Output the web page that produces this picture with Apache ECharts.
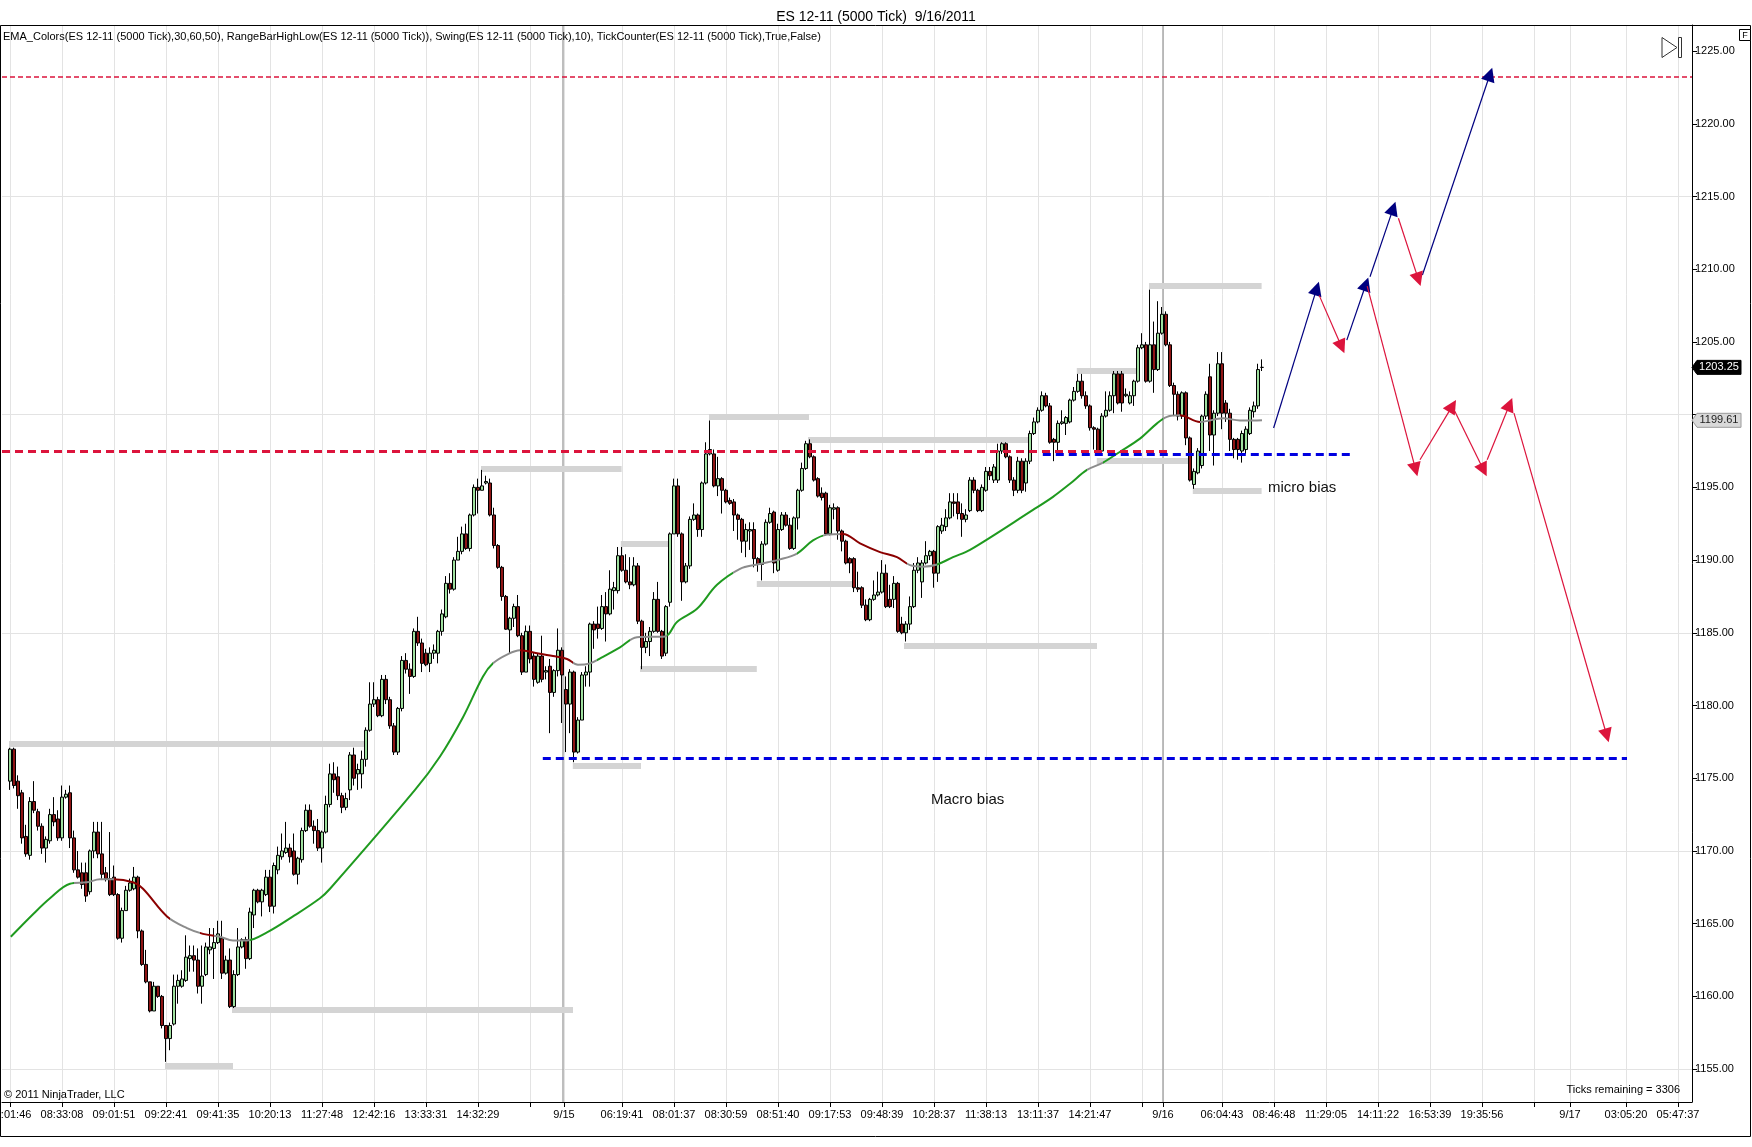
<!DOCTYPE html>
<html><head><meta charset="utf-8">
<script src="https://cdn.jsdelivr.net/npm/echarts@6/dist/echarts.min.js"></script>
<style>html,body{margin:0;padding:0;background:#fff}#c{width:1752px;height:1147px}</style>
</head><body><div id="c"></div>
<script>
// ---------------- DATA ----------------
const chartTitle = 'ES 12-11 (5000 Tick)  9/16/2011';
const indicatorText = 'EMA_Colors(ES 12-11 (5000 Tick),30,60,50), RangeBarHighLow(ES 12-11 (5000 Tick)), Swing(ES 12-11 (5000 Tick),10), TickCounter(ES 12-11 (5000 Tick),True,False)';
const copyrightText = '\u00a9 2011 NinjaTrader, LLC';
const ticksRemainingText = 'Ticks remaining = 3306';

// x tick positions (bar index) and labels
const xTickPos = [0,13,26,39,52,65,78,91,104,117,130,138.5,153,166,179,192,205,218,231,244,257,270,283,288.25,303,316,329,342,355,368,381,390,404,417];
const xTickLabels = ['08:01:46','08:33:08','09:01:51','09:22:41','09:41:35','10:20:13','11:27:48','12:42:16','13:33:31','14:32:29','','9/15','06:19:41','08:01:37','08:30:59','08:51:40','09:17:53','09:48:39','10:28:37','11:38:13','13:11:37','14:21:47','','9/16','06:04:43','08:46:48','11:29:05','14:11:22','16:53:39','19:35:56','','9/17','03:05:20','05:47:37'];
const sessionBreaks = [138.2, 288.2];
const yTickValues = [1155,1160,1165,1170,1175,1180,1185,1190,1195,1200,1205,1210,1215,1220,1225];
const yGridLevels = [1155,1170,1185,1200,1215];

const barOpen = [
1174.8,1177.0,1174.8,1174.0,1171.0,1169.7,1173.4,1172.7,1171.7,1170.2,
1170.7,1172.5,1172.2,1170.9,1173.7,1174.0,1170.9,1168.7,1168.5,1168.5,
1167.2,1170.0,1171.3,1169.8,1168.5,1168.1,1168.2,1167.0,1164.0,1165.9,
1167.3,1167.4,1168.2,1164.5,1162.2,1161.0,1159.0,1160.7,1160.0,1158.0,
1157.1,1158.1,1160.7,1160.7,1161.1,1162.6,1162.8,1162.5,1160.7,1161.5,
1163.2,1163.3,1163.7,1164.0,1161.6,1162.5,1159.3,1161.5,1163.4,1163.9,
1162.6,1165.6,1167.3,1166.5,1167.0,1168.2,1166.2,1168.7,1169.6,1169.9,
1170.2,1170.0,1168.4,1169.4,1171.4,1172.8,1171.7,1171.4,1170.2,1171.3,
1173.2,1175.3,1175.1,1173.8,1173.0,1174.2,1176.6,1175.3,1175.3,1176.3,
1178.3,1180.1,1180.4,1179.3,1181.8,1180.4,1178.6,1176.8,1179.8,1183.1,
1182.5,1182.0,1185.1,1184.3,1183.6,1182.9,1183.6,1183.6,1185.1,1186.1,
1188.4,1188.0,1190.0,1190.6,1191.8,1190.8,1193.1,1195.0,1194.8,1195.3,
1195.3,1193.1,1191.0,1189.5,1187.5,1185.2,1186.0,1186.8,1184.8,1182.3,
1185.1,1183.4,1181.6,1183.4,1182.3,1182.7,1180.9,1182.4,1183.8,1181.1,
1180.1,1182.3,1176.8,1179.0,1182.1,1182.3,1185.6,1185.6,1185.3,1186.8,
1186.3,1187.9,1187.9,1190.3,1189.3,1188.5,1188.3,1189.6,1185.8,1184.0,
1184.4,1185.1,1187.3,1185.1,1183.6,1187.1,1191.8,1195.1,1191.8,1188.5,
1189.6,1192.8,1193.1,1192.1,1195.3,1197.3,1197.3,1195.1,1195.6,1194.8,
1194.1,1194.0,1193.1,1192.8,1191.3,1192.0,1192.1,1190.1,1189.7,1191.1,
1192.6,1193.3,1189.3,1192.1,1193.1,1192.4,1190.8,1192.9,1194.8,1196.3,
1198.0,1197.1,1195.6,1194.6,1194.6,1191.8,1193.5,1193.6,1192.0,1191.3,
1190.1,1190.1,1188.1,1188.1,1186.9,1185.9,1187.3,1187.6,1187.8,1189.1,
1187.3,1187.3,1188.4,1185.6,1185.0,1185.6,1186.8,1189.3,1188.5,1189.8,
1190.3,1190.6,1189.1,1192.0,1192.3,1192.9,1194.0,1194.0,1193.2,1192.8,
1193.4,1195.5,1194.8,1193.4,1194.8,1196.1,1195.5,1195.5,1197.5,1198.0,
1197.1,1195.5,1194.8,1196.8,1195.3,1196.8,1198.7,1199.5,1200.3,1201.3,
1200.6,1198.3,1198.1,1199.4,1199.4,1199.5,1201.0,1201.6,1202.3,1201.3,
1200.6,1199.1,1199.0,1197.5,1199.9,1200.3,1201.3,1202.8,1202.8,1201.3,
1200.8,1201.3,1202.3,1204.6,1204.8,1202.3,1204.8,1203.1,1205.6,1206.9,
1204.8,1202.0,1201.4,1199.9,1201.5,1198.4,1195.2,1196.0,1196.5,1199.9,
1202.6,1198.6,1200.1,1203.5,1200.8,1200.1,1198.3,1198.3,1197.5,1197.6,
1198.7,1200.2,1200.6,1203.25];
const barHigh = [
1177.1,1177.1,1175.2,1174.2,1171.8,1173.7,1174.8,1172.9,1171.9,1171.0,
1172.9,1173.7,1172.8,1174.5,1174.2,1174.5,1171.4,1170.0,1169.2,1169.2,
1170.1,1172.0,1172.0,1172.0,1168.9,1171.3,1169.0,1167.1,1166.1,1167.6,
1168.1,1168.9,1168.3,1164.6,1163.2,1161.0,1161.0,1160.7,1160.1,1158.0,
1158.2,1161.5,1161.5,1161.8,1164.2,1163.5,1163.5,1163.3,1163.5,1163.7,
1164.7,1164.7,1165.2,1165.2,1162.8,1163.3,1161.8,1164.7,1164.0,1164.1,
1166.1,1167.4,1167.4,1167.4,1168.7,1168.7,1169.2,1170.3,1171.2,1172.0,
1170.5,1171.2,1169.6,1171.6,1173.2,1173.2,1172.1,1172.2,1171.4,1173.8,
1176.0,1176.1,1175.8,1174.0,1174.0,1176.8,1177.1,1176.0,1176.9,1178.5,
1181.6,1181.6,1180.6,1182.1,1182.1,1180.6,1178.8,1179.9,1183.4,1183.6,
1182.9,1185.3,1186.1,1184.6,1183.9,1184.0,1184.2,1185.2,1186.6,1188.9,
1189.1,1190.2,1191.6,1192.3,1192.5,1193.2,1195.2,1195.6,1196.2,1195.8,
1195.6,1193.6,1191.1,1189.6,1187.6,1186.1,1187.0,1187.6,1185.0,1185.5,
1185.5,1183.6,1183.6,1184.8,1182.7,1183.2,1182.5,1185.3,1184.0,1182.0,
1182.5,1182.4,1179.2,1182.3,1182.7,1185.7,1185.8,1186.8,1187.6,1187.8,
1189.3,1188.5,1190.9,1190.9,1190.4,1190.2,1190.2,1189.8,1185.9,1185.0,
1185.4,1187.8,1188.5,1185.2,1186.9,1191.9,1195.6,1195.6,1191.9,1189.8,
1193.0,1193.9,1193.2,1195.4,1198.1,1199.6,1197.6,1197.1,1195.7,1194.9,
1194.3,1194.2,1193.2,1192.9,1192.5,1192.6,1192.6,1190.2,1191.3,1192.8,
1193.6,1193.4,1192.5,1193.3,1193.3,1192.9,1193.0,1194.9,1196.7,1198.2,
1198.3,1197.2,1195.7,1195.0,1194.7,1193.8,1193.9,1193.7,1192.1,1191.4,
1190.2,1190.2,1189.2,1188.2,1187.3,1187.4,1188.6,1189.2,1190.0,1189.7,
1188.3,1188.9,1188.5,1186.1,1185.8,1187.5,1189.8,1190.2,1190.0,1191.3,
1190.7,1190.7,1192.4,1192.9,1193.5,1194.6,1194.6,1194.6,1193.9,1193.5,
1195.7,1195.7,1194.9,1195.2,1196.4,1196.4,1196.6,1198.0,1198.1,1198.1,
1197.2,1195.7,1197.1,1197.0,1197.0,1198.9,1199.8,1200.5,1201.6,1201.5,
1200.8,1198.4,1199.6,1200.3,1199.9,1201.1,1201.9,1202.8,1202.8,1201.6,
1200.7,1199.2,1199.1,1200.1,1201.6,1201.6,1203.0,1203.0,1203.0,1201.8,
1201.6,1202.4,1204.8,1205.6,1205.0,1208.6,1206.4,1207.8,1207.4,1207.1,
1205.0,1202.2,1201.6,1201.6,1201.6,1198.5,1196.3,1197.7,1200.0,1201.6,
1203.5,1200.3,1204.3,1204.3,1201.0,1200.4,1198.4,1198.4,1198.9,1199.2,
1200.5,1200.9,1203.5,1203.8];
const barLow = [
1174.2,1174.3,1172.9,1170.5,1169.6,1169.4,1172.6,1171.4,1169.8,1169.2,
1170.5,1171.7,1170.7,1170.7,1173.6,1170.2,1168.5,1168.1,1167.4,1166.5,
1167.0,1169.5,1169.5,1168.0,1167.9,1166.9,1166.9,1163.9,1163.7,1165.9,
1167.2,1167.3,1164.0,1162.1,1160.9,1158.9,1159.0,1159.9,1157.8,1155.5,
1156.3,1158.0,1159.5,1160.6,1161.0,1161.7,1161.7,1160.2,1159.5,1161.4,
1162.9,1161.2,1163.6,1161.2,1161.5,1159.2,1159.2,1161.4,1163.3,1161.9,
1162.5,1164.7,1166.4,1165.5,1166.9,1165.8,1165.7,1168.4,1169.4,1169.8,
1169.2,1168.3,1167.7,1169.2,1171.3,1171.6,1170.5,1170.0,1169.2,1171.2,
1173.0,1174.0,1173.5,1172.6,1172.8,1173.5,1174.5,1174.2,1174.3,1175.8,
1178.2,1179.9,1179.2,1179.2,1180.1,1178.4,1176.6,1176.6,1179.6,1182.2,
1180.8,1181.9,1184.1,1182.3,1182.7,1182.3,1183.2,1182.9,1184.8,1186.0,
1187.7,1187.9,1190.0,1190.4,1190.7,1190.6,1193.0,1193.2,1194.8,1195.2,
1193.0,1190.8,1189.4,1187.2,1185.2,1183.6,1185.4,1184.7,1182.1,1182.3,
1182.9,1181.3,1181.5,1181.6,1181.8,1178.1,1180.6,1182.0,1178.8,1176.8,
1178.1,1176.1,1176.7,1179.0,1181.3,1181.3,1183.9,1184.6,1185.2,1184.4,
1186.2,1186.6,1187.7,1189.2,1188.4,1188.0,1188.2,1185.6,1182.5,1183.6,
1183.4,1185.0,1185.0,1183.2,1183.4,1186.8,1191.8,1191.6,1187.2,1188.4,
1189.4,1192.7,1191.6,1191.6,1195.2,1197.2,1195.0,1194.4,1193.2,1193.9,
1193.8,1192.0,1191.4,1190.5,1190.2,1190.7,1189.5,1189.2,1188.6,1191.0,
1192.5,1189.1,1189.2,1192.0,1192.3,1190.7,1190.7,1192.1,1194.7,1196.2,
1197.0,1195.4,1194.3,1194.1,1191.7,1191.7,1192.8,1191.4,1190.6,1189.7,
1189.1,1187.8,1187.8,1186.7,1185.8,1185.8,1187.2,1187.5,1187.7,1186.7,
1186.7,1186.7,1185.0,1184.9,1184.4,1185.2,1186.7,1189.1,1187.4,1189.7,
1190.0,1188.1,1188.5,1191.8,1192.0,1192.8,1193.0,1192.8,1191.6,1192.6,
1193.3,1194.6,1193.3,1193.3,1194.7,1195.5,1195.3,1195.3,1197.3,1197.0,
1195.3,1194.4,1194.6,1194.6,1194.7,1196.6,1198.6,1199.4,1200.2,1200.5,
1198.0,1196.8,1197.5,1199.3,1198.6,1199.4,1200.9,1201.5,1201.1,1200.4,
1198.9,1197.6,1197.2,1197.3,1199.8,1200.2,1200.1,1200.7,1200.2,1201.2,
1200.7,1200.6,1202.2,1204.5,1202.2,1202.2,1201.5,1203.0,1205.5,1204.7,
1201.9,1199.9,1199.6,1199.7,1197.9,1195.4,1194.9,1195.9,1196.3,1199.7,
1197.5,1196.5,1199.9,1199.0,1199.5,1197.5,1197.0,1196.9,1196.7,1197.3,
1198.6,1199.8,1200.4,1203.0];
const barClose = [
1177.0,1174.5,1173.8,1170.9,1169.8,1173.4,1172.8,1171.7,1170.2,1170.8,
1172.5,1172.0,1170.9,1173.7,1173.9,1170.9,1168.7,1168.2,1167.7,1166.9,
1170.0,1171.3,1169.8,1168.4,1168.1,1167.0,1167.0,1164.0,1165.9,1167.3,
1167.8,1168.2,1164.5,1162.2,1161.0,1159.0,1160.7,1160.0,1158.0,1157.1,
1158.0,1160.7,1161.1,1161.2,1162.7,1162.8,1162.5,1160.7,1161.4,1163.4,
1163.4,1163.7,1164.3,1161.6,1162.5,1159.3,1161.5,1163.4,1163.9,1162.6,
1165.8,1167.3,1166.5,1167.3,1168.2,1166.2,1169.0,1169.7,1170.0,1170.2,
1169.6,1168.4,1169.5,1171.4,1172.8,1171.7,1171.4,1170.2,1171.3,1173.2,
1175.3,1174.9,1173.8,1173.0,1173.6,1176.6,1175.0,1175.6,1176.3,1178.3,
1180.1,1180.4,1179.3,1181.8,1180.4,1178.6,1176.8,1179.8,1183.1,1182.5,
1182.0,1185.1,1184.3,1182.9,1182.8,1183.6,1183.8,1185.1,1186.3,1188.4,
1188.0,1190.0,1190.6,1191.8,1190.8,1193.1,1195.0,1194.8,1195.1,1195.4,
1193.1,1191.0,1189.5,1187.5,1185.25,1186.0,1186.8,1184.8,1182.3,1185.1,
1183.2,1181.8,1183.4,1181.8,1182.4,1180.9,1182.4,1183.8,1182.1,1180.1,
1182.3,1176.8,1179.0,1182.1,1182.3,1185.6,1185.2,1185.3,1186.8,1186.3,
1188.0,1188.1,1190.3,1189.3,1188.5,1188.3,1189.6,1185.8,1184.0,1184.4,
1185.1,1187.3,1185.1,1183.4,1186.8,1191.8,1195.1,1191.8,1188.5,1189.6,
1192.8,1193.1,1192.1,1195.3,1197.3,1197.6,1195.1,1195.6,1194.8,1194.0,
1193.9,1193.1,1192.8,1191.3,1192.1,1192.1,1190.1,1189.7,1191.1,1192.6,
1193.2,1189.8,1192.1,1193.1,1192.4,1190.8,1192.9,1194.8,1196.3,1198.0,
1197.1,1195.5,1194.4,1194.3,1191.8,1193.6,1193.6,1192.0,1191.3,1189.8,
1189.8,1188.1,1188.0,1186.9,1185.9,1187.3,1187.6,1187.8,1189.1,1186.8,
1186.8,1188.4,1185.1,1185.0,1185.6,1186.8,1189.3,1189.8,1189.8,1190.3,
1190.6,1189.1,1192.3,1192.4,1192.9,1194.0,1193.9,1193.2,1192.8,1193.1,
1195.5,1194.8,1193.4,1195.0,1196.1,1195.8,1196.4,1197.5,1198.0,1197.1,
1195.5,1194.8,1196.8,1194.8,1196.8,1198.7,1199.5,1200.3,1201.3,1200.6,
1198.1,1198.1,1199.4,1199.5,1199.8,1201.0,1201.6,1202.3,1201.3,1200.6,
1199.1,1199.0,1197.5,1199.9,1200.3,1201.3,1202.8,1200.8,1200.8,1201.4,
1201.3,1202.3,1204.6,1204.8,1202.3,1204.8,1203.1,1205.6,1206.9,1204.8,
1202.0,1201.4,1199.9,1201.5,1198.4,1195.5,1196.1,1197.5,1199.9,1201.4,
1198.6,1200.1,1203.5,1200.1,1200.1,1198.3,1197.6,1197.6,1198.7,1199.0,
1200.3,1200.6,1203.1,1203.25];

const emaPoints = [[0.2,1164.1],[5.75,1165.65],[10,1166.75],[15,1167.75],[19.25,1167.85],[22.5,1168.05],[25.75,1168.05],[30.75,1167.85],[33.25,1167.4],[39.25,1165.5],[44.25,1164.7],[48.25,1164.3],[52.5,1164.1],[55.75,1163.85],[59.25,1163.85],[64.25,1164.4],[70.75,1165.5],[77.5,1166.75],[80,1167.4],[101.25,1174.2],[107.5,1176.5],[113.25,1179.2],[118.25,1182.0],[120.75,1182.9],[124.25,1183.5],[127.5,1183.8],[131.75,1183.6],[135.75,1183.4],[139.25,1183.2],[142,1182.8],[145,1182.9],[148.25,1183.35],[152.5,1184.0],[156.75,1184.7],[163.75,1184.75],[166.75,1185.75],[171.75,1186.65],[176.75,1188.3],[182.5,1189.4],[186.75,1189.7],[192.5,1190.05],[196.75,1190.45],[200.75,1191.35],[204.25,1191.75],[208.25,1191.8],[212.5,1191.15],[217.5,1190.55],[221.75,1190.2],[225,1189.65],[228.25,1189.55],[231.75,1189.7],[235.75,1190.2],[240,1190.7],[255.75,1193.45],[260.75,1194.35],[265,1195.25],[269.25,1196.2],[273.25,1196.7],[277.5,1197.45],[282.5,1198.35],[286.75,1199.4],[289.25,1199.85],[292.5,1199.95],[297.5,1199.5],[303.25,1199.75],[307.5,1199.6],[311.75,1199.6],[313,1199.61]];
const emaRegimes = [[-5,16,'up'],[16,26,'flat'],[26,40,'down'],[40,47.5,'flat'],[47.5,51,'down'],[51,60,'flat'],[60,120.75,'up'],[120.75,127.5,'flat'],[127.5,140.75,'down'],[140.75,146.75,'flat'],[146.75,155,'up'],[155,164.25,'flat'],[164.25,180.75,'up'],[180.75,196.75,'flat'],[196.75,203.25,'up'],[203.25,207.5,'flat'],[207.5,224.25,'down'],[224.25,231.75,'flat'],[231.75,269.25,'up'],[269.25,273.25,'flat'],[273.25,288.25,'up'],[288.25,292.5,'flat'],[292.5,297.5,'down'],[297.5,330,'flat']];

// swing high/low bars: [startBar, endBar, price]
const swingLevels = [[-0.25,89,1177.35],[38.75,55.75,1155.2],[55.5,140.75,1159.05],[117.75,152.9,1196.3],[152.7,165,1191.1],[157.5,186.7,1182.5],[140.7,157.75,1175.85],[174.75,199.75,1199.85],[199.5,255,1198.3],[186.7,210.75,1188.4],[223.5,271.75,1184.1],[266.7,281.9,1203.05],[284.75,312.9,1208.85],[271.7,294.8,1196.8],[295.7,312.9,1194.8]];

// drawn levels: [startBar, endBar, price]
const redLevelTop = [-2, 420.5, 1223.25];
const redLevelMid = [-2, 289.5, 1197.5];
const blueMicroBias = [258.2, 335.5, 1197.3];
const blueMacroBias = [133.2, 404.25, 1176.35];

// projection arrows: [[fromBar, fromPrice], [toBar, toPrice]]
const blueArrows = [[[315.9,1199.08],[326.7,1208.68]],[[334.2,1205.12],[339.0,1208.98]],[[340.0,1209.48],[345.8,1214.18]],[[353.1,1209.6],[370,1223.4]]];
const redArrows = [[[327.3,1208.2],[332.9,1204.67]],[[347.1,1213.5],[352.1,1209.3]],[[339.3,1208.84],[351.4,1196.23]],[[352.5,1196.9],[360.6,1200.6]],[[361.2,1200.23],[368.4,1196.2]],[[369.3,1196.9],[374.9,1200.7]],[[376,1200.1],[399.2,1177.94]]];

const lastPrice = 1203.25;
const lastEma = 1199.61;
const notes = [{text:'micro bias', at:[314.5,1195.0]},{text:'Macro bias', at:[230.25,1173.5]}];

// ---------------- CHART ----------------
const FONT = '"Liberation Sans", Arial, sans-serif';
const xMin = -2, xMax = 420.5, yMin = 1152.74, yMax = 1226.79;
const regimeColor = {up:'#1f9a1f', down:'#8b0000', flat:'#8c8c8c'};
// axis labels hidden where a price tag sits on top of them
const yLabelValues = yTickValues.filter(v=>Math.abs(v-lastEma)>1 && Math.abs(v-lastPrice)>1);

const candleData = barOpen.map((o,i)=>[i, o, barClose[i], barLow[i], barHigh[i]]);
const seg = (a)=>({coords:[[a[0],a[2]],[a[1],a[2]]]});

const gridLines = [];
xTickPos.forEach(v=>gridLines.push({coords:[[v,yMin],[v,yMax]]}));
yGridLevels.forEach(v=>gridLines.push({coords:[[xMin,v],[xMax,v]]}));
const breakLines = sessionBreaks.map(v=>({coords:[[v,yMin],[v,yMax]]}));

const chart = echarts.init(document.getElementById('c'));
const option = {
  animation:false,
  backgroundColor:'#ffffff',
  title:{text:chartTitle,left:'center',top:5,textStyle:{fontSize:14,fontWeight:'normal',color:'#000',fontFamily:FONT}},
  grid:{left:2,right:60,top:25,bottom:45,containLabel:false,outerBoundsMode:'none'},
  xAxis:{type:'value',min:xMin,max:xMax,
    axisLine:{onZero:false,lineStyle:{color:'#000',width:1}},
    axisTick:{show:true,customValues:xTickPos,length:5,lineStyle:{color:'#000'}},
    axisLabel:{customValues:xTickPos,fontSize:11,color:'#000',fontFamily:FONT,margin:7,
      formatter:(v)=>{const k=xTickPos.findIndex(p=>Math.abs(p-v)<1e-6);return k>=0?xTickLabels[k]:'';}},
    splitLine:{show:false}},
  yAxis:{type:'value',position:'right',min:yMin,max:yMax,
    axisLine:{show:true,onZero:false,lineStyle:{color:'#000',width:1}},
    axisTick:{show:true,customValues:yTickValues,length:5,lineStyle:{color:'#000'}},
    axisLabel:{customValues:yLabelValues,fontSize:11,color:'#000',fontFamily:FONT,margin:3,formatter:(v)=>Number(v).toFixed(2)},
    splitLine:{show:false}},
  visualMap:{type:'piecewise',show:false,seriesIndex:4,dimension:0,
    pieces:emaRegimes.map(r=>({gte:r[0],lt:r[1],color:regimeColor[r[2]]}))},
  series:[
    {type:'lines',coordinateSystem:'cartesian2d',silent:true,z:1,data:gridLines,lineStyle:{color:'#e3e3e3',width:1,opacity:1}},
    {type:'lines',coordinateSystem:'cartesian2d',silent:true,z:1,data:breakLines,lineStyle:{color:'#a8a8a8',width:1.5,opacity:1}},
    {type:'lines',coordinateSystem:'cartesian2d',silent:true,z:2,data:swingLevels.map(seg),lineStyle:{color:'#d4d4d4',width:6,opacity:1,cap:'butt'}},
    {type:'candlestick',z:4,data:candleData,encode:{x:0,y:[1,2,3,4]},barWidth:3,
      itemStyle:{color:'#9fe09f',color0:'#8e1414',borderColor:'#000',borderColor0:'#000',borderWidth:1}},
    {type:'line',z:5,data:emaPoints,showSymbol:false,smooth:0.35,lineStyle:{width:2}},
    {type:'lines',coordinateSystem:'cartesian2d',silent:true,z:6,data:[seg(redLevelTop)],lineStyle:{color:'#dc143c',width:1.6,type:[5,3],opacity:1}},
    {type:'lines',coordinateSystem:'cartesian2d',silent:true,z:6,data:[seg(redLevelMid)],lineStyle:{color:'#dc143c',width:3,type:[8,5],opacity:1}},
    {type:'lines',coordinateSystem:'cartesian2d',silent:true,z:6,data:[seg(blueMicroBias),seg(blueMacroBias)],lineStyle:{color:'#0000e0',width:3,type:[8,5],opacity:1}},
    {type:'lines',coordinateSystem:'cartesian2d',silent:true,z:7,symbol:['none','triangle'],symbolSize:[12,14],
      data:blueArrows.map(a=>({coords:a})),lineStyle:{color:'#000080',width:1.2,opacity:1},itemStyle:{color:'#000080'}},
    {type:'lines',coordinateSystem:'cartesian2d',silent:true,z:7,symbol:['none','triangle'],symbolSize:[12,14],
      data:redArrows.map(a=>({coords:a})),lineStyle:{color:'#dc143c',width:1.2,opacity:1},itemStyle:{color:'#dc143c'}}
  ]
};
chart.setOption(option);

// decorations placed through the chart's own coordinate conversion
const toPx = (p)=>chart.convertToPixel({gridIndex:0},p);
const rightX = toPx([xMax,yMin])[0];
const yLast = toPx([0,lastPrice])[1];
const yEma = toPx([0,lastEma])[1];
function priceTag(y, txt, fill, stroke, color){
  return [
    {type:'polygon',z:100,zlevel:1,shape:{points:[[rightX,y],[rightX+5,y-7],[rightX+49,y-7],[rightX+49,y+7],[rightX+5,y+7]]},style:{fill:fill,stroke:stroke,lineWidth:1}},
    {type:'text',z:101,zlevel:1,x:rightX+27,y:y,style:{text:txt,fill:color,font:'11px '+FONT,align:'center',verticalAlign:'middle'}}];
}
const graphics = [
  {type:'rect',z:50,shape:{x:0.5,y:25.5,width:1750,height:1111},style:{fill:null,stroke:'#000',lineWidth:1}},
  {type:'text',z:50,x:3,y:37,style:{text:indicatorText,fill:'#000',font:'11px '+FONT,verticalAlign:'middle'}},
  {type:'text',z:50,x:4,y:1095,style:{text:copyrightText,fill:'#000',font:'11px '+FONT,verticalAlign:'middle'}},
  {type:'text',z:50,x:rightX-12,y:1090,style:{text:ticksRemainingText,fill:'#000',font:'11px '+FONT,align:'right',verticalAlign:'middle'}},
  {type:'polygon',z:50,shape:{points:[[1662,37.5],[1677,47.5],[1662,57.5]]},style:{fill:'#fff',stroke:'#333',lineWidth:1}},
  {type:'rect',z:50,shape:{x:1678.5,y:37.5,width:3,height:20},style:{fill:'#fff',stroke:'#333',lineWidth:1}},
  {type:'rect',z:50,shape:{x:1739.5,y:29.5,width:11,height:11},style:{fill:'#fff',stroke:'#000',lineWidth:1}},
  {type:'text',z:51,x:1745,y:35.5,style:{text:'F',fill:'#000',font:'9px '+FONT,align:'center',verticalAlign:'middle'}}
].concat(priceTag(yEma, lastEma.toFixed(2), '#d9d9d9', '#9a9a9a', '#222'))
 .concat(priceTag(yLast, lastPrice.toFixed(2), '#000', '#000', '#fff'));
notes.forEach(n=>{const p=toPx(n.at);graphics.push({type:'text',z:60,x:p[0],y:p[1],style:{text:n.text,fill:'#111',font:'15px '+FONT,verticalAlign:'middle'}});});
chart.setOption({graphic:graphics});
</script>
</body></html>
